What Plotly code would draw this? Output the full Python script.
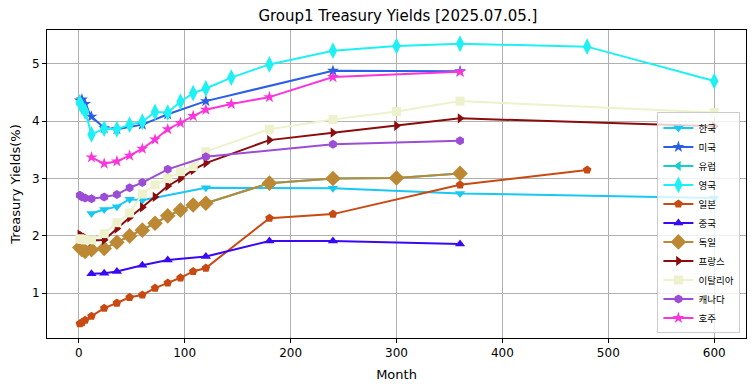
import plotly.graph_objects as go

# ---- data (months, yields %) ----
kr_m = [12, 24, 36, 48, 60, 120, 240, 360, 600]
kr_v = [2.39, 2.46, 2.51, 2.64, 2.62, 2.84, 2.83, 2.74, 2.66]

us_m = [1, 3, 6, 12, 24, 36, 60, 84, 120, 240, 360]
us_v = [4.36, 4.38, 4.30, 4.08, 3.88, 3.86, 3.94, 4.12, 4.35, 4.88, 4.87]

de_m = [1, 3, 6, 12, 24, 36, 48, 60, 72, 84, 96, 108, 120, 180, 240, 300, 360]
de_v = [1.80, 1.76, 1.73, 1.76, 1.78, 1.89, 2.00, 2.10, 2.22, 2.35, 2.45, 2.54, 2.57, 2.92, 3.00, 3.01, 3.09]

eu_m = list(de_m)
eu_v = list(de_v)

uk_m = [1, 3, 6, 12, 24, 36, 48, 60, 72, 84, 96, 108, 120, 144, 180, 240, 300, 360, 480, 600]
uk_v = [4.32, 4.25, 4.17, 3.77, 3.87, 3.86, 3.94, 3.99, 4.16, 4.15, 4.34, 4.49, 4.57, 4.76, 4.99, 5.23, 5.31, 5.35, 5.30, 4.70]

jp_m = [1, 3, 6, 12, 24, 36, 48, 60, 72, 84, 96, 108, 120, 180, 240, 360, 480]
jp_v = [0.47, 0.49, 0.53, 0.60, 0.74, 0.83, 0.93, 0.97, 1.09, 1.18, 1.27, 1.38, 1.44, 2.31, 2.38, 2.89, 3.15]

cn_m = [12, 24, 36, 60, 84, 120, 180, 240, 360]
cn_v = [1.34, 1.35, 1.38, 1.49, 1.58, 1.64, 1.91, 1.91, 1.86]

fr_m = [1, 3, 6, 12, 24, 36, 48, 60, 72, 84, 96, 108, 120, 180, 240, 300, 360, 600]
fr_v = [2.02, 2.00, 1.97, 1.92, 1.93, 2.13, 2.32, 2.50, 2.68, 2.87, 3.00, 3.15, 3.27, 3.67, 3.80, 3.92, 4.05, 3.91]

it_m = [1, 3, 6, 12, 24, 36, 48, 60, 72, 84, 96, 108, 120, 180, 240, 300, 360, 600]
it_v = [1.95, 1.94, 1.93, 1.93, 2.04, 2.23, 2.40, 2.73, 2.89, 3.00, 3.12, 3.21, 3.47, 3.86, 4.03, 4.17, 4.35, 4.15]

ca_m = [1, 3, 6, 12, 24, 36, 48, 60, 84, 120, 240, 360]
ca_v = [2.71, 2.68, 2.66, 2.65, 2.68, 2.72, 2.84, 2.93, 3.16, 3.38, 3.60, 3.66]

au_m = [12, 24, 36, 48, 60, 72, 84, 96, 108, 120, 144, 180, 240, 360]
au_v = [3.37, 3.26, 3.30, 3.40, 3.52, 3.68, 3.86, 3.97, 4.09, 4.20, 4.30, 4.42, 4.77, 4.86]

x_ticks = [0, 100, 200, 300, 400, 500, 600]
y_ticks = [1, 2, 3, 4, 5]

series = [
    ("한국", kr_m, kr_v, "#17c8f3", "triangle-down", 9),
    ("미국", us_m, us_v, "#2a5ee6", "star", 9),
    ("유럽", eu_m, eu_v, "#18cdd2", "triangle-left", 9),
    ("영국", uk_m, uk_v, "#1ef0f4", "diamond-tall", 12),
    ("일본", jp_m, jp_v, "#c84a12", "pentagon", 9),
    ("중국", cn_m, cn_v, "#3a08f4", "triangle-up", 9),
    ("독일", de_m, de_v, "#bd8834", "diamond", 12),
    ("프랑스", fr_m, fr_v, "#8a0c0c", "triangle-right", 9),
    ("이탈리아", it_m, it_v, "#eef2cc", "square", 9),
    ("캐나다", ca_m, ca_v, "#9b4dd6", "hexagon", 9),
    ("호주", au_m, au_v, "#fb35dc", "star", 9),
]

FONT = "DejaVu Sans, Noto Sans CJK KR, sans-serif"

fig = go.Figure()
for name, m, v, c, sym, sz in series:
    fig.add_trace(go.Scatter(
        x=m, y=v, name=name, mode="lines+markers",
        line=dict(color=c, width=2),
        marker=dict(symbol=sym, size=sz, color=c, line=dict(width=0)),
    ))

fig.update_layout(
    width=755, height=391,
    margin=dict(l=47, r=9, t=30, b=53, autoexpand=False),
    paper_bgcolor="white", plot_bgcolor="white",
    font=dict(family=FONT, size=12, color="black"),
    title=dict(text="Group1 Treasury Yields [2025.07.05.]", x=0.527, xanchor="center",
               y=0.96, yanchor="middle", font=dict(size=15, family=FONT)),
    showlegend=True,
    legend=dict(x=0.992, y=0.015, xanchor="right", yanchor="bottom",
                bgcolor="rgba(255,255,255,0.8)", bordercolor="#cccccc", borderwidth=1,
                font=dict(size=9.5, family=FONT), tracegroupgap=0, itemwidth=30),
)
fig.update_xaxes(
    range=[-30, 630], tickvals=x_ticks, ticktext=[str(t) for t in x_ticks],
    showgrid=True, gridcolor="#b0b0b0", gridwidth=1,
    showline=True, linecolor="black", linewidth=1, mirror=True,
    ticks="outside", ticklen=4, tickcolor="black", zeroline=False, automargin=False,
    title=dict(text="Month", font=dict(size=13), standoff=10),
    tickfont=dict(size=12),
)
fig.update_yaxes(
    range=[0.22, 5.59], tickvals=y_ticks, ticktext=[str(t) for t in y_ticks],
    showgrid=True, gridcolor="#b0b0b0", gridwidth=1,
    showline=True, linecolor="black", linewidth=1, mirror=True,
    ticks="outside", ticklen=4, tickcolor="black", zeroline=False, automargin=False,
    title=dict(text="Treasury Yields(%)", font=dict(size=13), standoff=8),
    tickfont=dict(size=12),
)

fig.write_html("out.html", config={"displayModeBar": False},
               post_script="document.body.style.margin='0px';")
